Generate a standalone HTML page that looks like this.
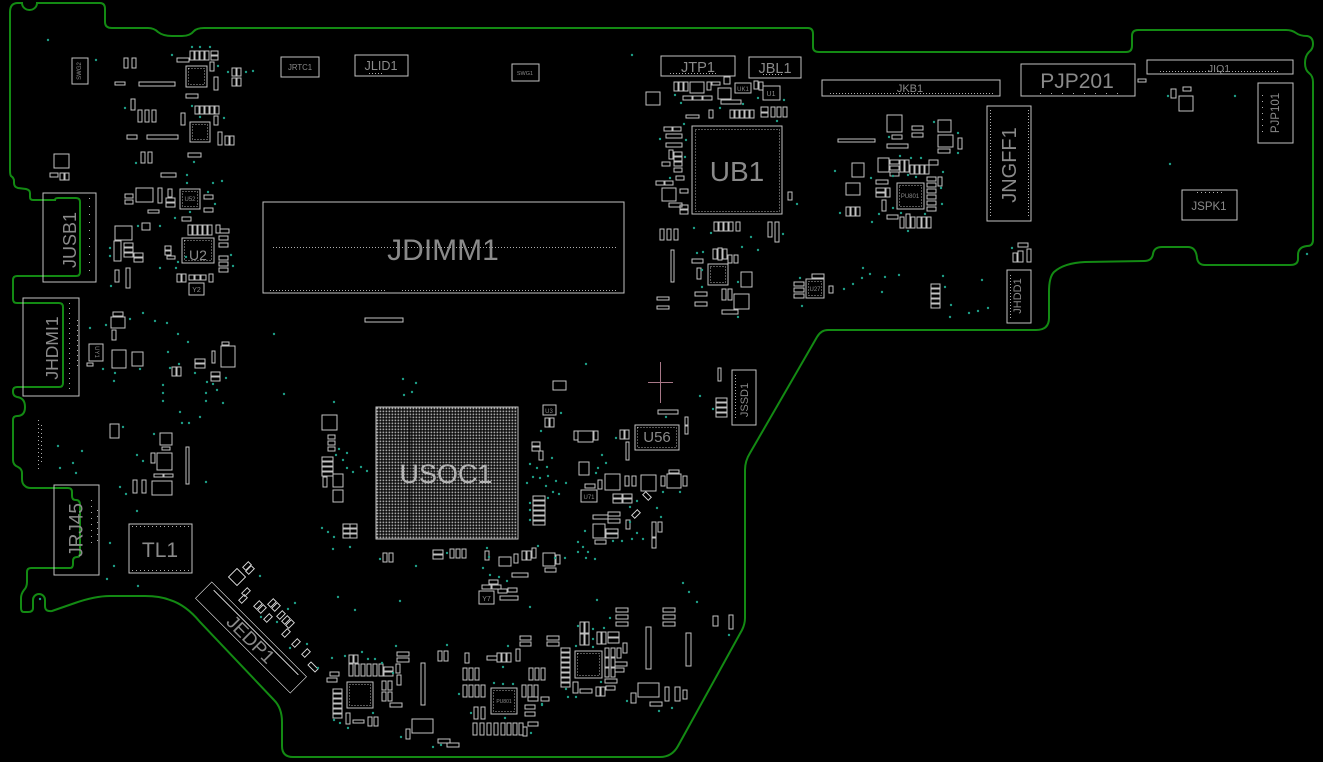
<!DOCTYPE html>
<html><head><meta charset="utf-8">
<style>
html,body{margin:0;padding:0;background:#000;width:1323px;height:762px;overflow:hidden}
svg{display:block}
text{font-family:"Liberation Sans",Arial,sans-serif}
</style></head>
<body>
<svg width="1323" height="762" viewBox="0 0 1323 762" xmlns="http://www.w3.org/2000/svg">
<defs>
<pattern id="bga" x="376" y="407" width="3" height="3" patternUnits="userSpaceOnUse">
<rect x="0.5" y="0.5" width="1.8" height="1.8" fill="#a8a8a8"/>
</pattern>
</defs>
<rect width="1323" height="762" fill="#000"/>

<!-- board outline -->
<path fill="none" stroke="#138a13" stroke-width="2" d="M 10,12 Q 10,3 18,3 L 22,3 A 7.5 7 0 0 0 37 3 L 100,3 Q 105,3 105,9 L 105,22 Q 105,28 112,28 L 148,28 Q 154,28 158,32 Q 163,36 172,36 L 182,36 Q 190,36 194,31 Q 197,28 204,28 L 808,28 Q 813,28 813,34 L 813,47 Q 813,52 819,52 L 1126,52 Q 1132,52 1132,46 L 1132,36 Q 1132,30 1138,30 L 1286,30 Q 1292,30 1296,33 Q 1300,36 1307,36 Q 1313,37 1313,44 Q 1313,49 1309,52 Q 1305,56 1305,63 Q 1305,70 1309,73 Q 1313,76 1313,82 L 1313,240 Q 1313,246 1307,246 Q 1298,247 1298,255 L 1298,259 Q 1298,265 1290,265 L 1205,265 Q 1198,265 1197,258 Q 1196,247 1188,247 L 1162,247 Q 1154,247 1153,254 Q 1152,261 1144,261 L 1085,262 Q 1064,263 1054,272 Q 1049,277 1049,292 L 1049,318 Q 1049,330 1036,330 L 828,330 Q 821,330 817,337 L 750,453 Q 745,461 745,470 L 745,618 Q 745,624 742,630 L 678,746 Q 672,757 660,757 L 293,757 Q 282,757 282,746 L 282,722 Q 282,708 274,700 L 200,622 Q 186,605 170,600 Q 160,596 145,596 L 110,596 Q 95,596 75,603 L 52,611 Q 45,612 45,606 L 45,600 A 6 6 0 0 0 33 600 L 33,608 Q 33,612 28,612 L 24,612 Q 21,612 21,608 L 21,598 Q 21,594 24,590 Q 27,587 27,582 L 27,572 Q 27,568 31,568 L 70,568 Q 73,568 73,564 L 73,561 Q 73,557 77,557 Q 80,557 80,553 L 80,505 Q 80,500 76,500 Q 72,500 72,496 L 72,492 Q 72,488 68,488 L 31,488 Q 27,488 25,486 Q 22,484 22,479 L 22,473 Q 22,469 18,467 Q 13,465 13,460 L 13,420 Q 13,416 17,416 Q 25,416 25,407 Q 25,398 17,397 Q 13,396 13,392 L 13,391 Q 13,387 17,387 L 59,387 Q 63,387 63,383 L 63,307 Q 63,303 59,303 L 17,303 Q 13,303 13,299 L 13,280 Q 13,276 17,276 L 76,276 Q 80,276 80,272 L 80,202 Q 80,198 76,198 L 58,198 Q 55,198 55,200 L 33,200 Q 30,200 30,197 L 30,193 Q 30,190 26,189 L 18,188 Q 14,187 14,183 L 14,181 Q 14,178 11,176 Q 10,175 10,170 Z"/>

<!-- BGA -->
<rect x="376" y="407" width="142" height="132" fill="url(#bga)"/>
<g stroke="#000" stroke-width="1.2" fill="none" opacity="0.55">
<line x1="386" y1="440" x2="508" y2="440"/><line x1="386" y1="506" x2="508" y2="506"/>
<line x1="410" y1="417" x2="410" y2="529"/><line x1="484" y1="417" x2="484" y2="529"/>
</g>

<!-- components -->
<g stroke="#c2c2c2" stroke-width="1" fill="none" shape-rendering="crispEdges">
<!-- big parts -->
<rect x="263" y="202" width="361" height="91"/>
<rect x="376" y="407" width="142" height="132"/>
<rect x="692" y="126" width="90" height="88"/>
<rect x="822" y="80" width="178" height="16"/>
<rect x="1021" y="64" width="114" height="32"/>
<rect x="1147" y="60" width="146" height="14"/>
<rect x="1258" y="83" width="35" height="60"/>
<rect x="1182" y="190" width="55" height="30"/>
<rect x="987" y="106" width="44" height="115"/>
<rect x="1007" y="270" width="24" height="53"/>
<rect x="661" y="56" width="74" height="20"/>
<rect x="749" y="57" width="52" height="21"/>
<rect x="355" y="55" width="53" height="21"/>
<rect x="281" y="57" width="38" height="20"/>
<rect x="512" y="64" width="27" height="17"/>
<rect x="72" y="58" width="16" height="26"/>
<rect x="43" y="193" width="53" height="89"/>
<rect x="23" y="298" width="56" height="98"/>
<rect x="54" y="485" width="45" height="90"/>
<rect x="129" y="524" width="63" height="49"/>
<rect x="635" y="425" width="44" height="25"/>
<rect x="732" y="370" width="24" height="55"/>
<rect x="182" y="238" width="32" height="25"/>
<rect x="189" y="283" width="15" height="12"/>
<rect x="479" y="591" width="15" height="13"/>
<rect x="365" y="318" width="38" height="4"/>

<!-- top-left cluster -->
<rect x="124" y="58" width="4" height="10"/><rect x="132" y="58" width="4" height="10"/>
<rect x="115" y="82" width="10" height="3"/><rect x="139" y="82" width="36" height="4"/>
<rect x="186" y="66" width="21" height="21"/>
<rect x="190" y="51" width="4" height="9"/><rect x="195" y="51" width="4" height="9"/><rect x="200" y="51" width="4" height="9"/><rect x="205" y="51" width="4" height="9"/><rect x="211" y="51" width="7" height="4"/><rect x="211" y="56" width="7" height="4"/>
<rect x="177" y="58" width="12" height="4"/><rect x="210" y="62" width="4" height="9"/><rect x="214" y="77" width="4" height="13"/>
<rect x="232" y="68" width="4" height="8"/><rect x="237" y="68" width="4" height="8"/><rect x="232" y="78" width="4" height="8"/><rect x="237" y="78" width="4" height="8"/>
<rect x="186" y="94" width="12" height="4"/><rect x="131" y="99" width="4" height="11"/>
<rect x="138" y="110" width="4" height="12"/><rect x="145" y="110" width="4" height="12"/><rect x="152" y="110" width="4" height="12"/>
<rect x="181" y="113" width="4" height="12"/>
<rect x="190" y="122" width="20" height="20"/>
<rect x="195" y="106" width="4" height="8"/><rect x="200" y="106" width="4" height="8"/><rect x="205" y="106" width="4" height="8"/><rect x="210" y="106" width="4" height="8"/><rect x="215" y="106" width="4" height="8"/>
<rect x="214" y="116" width="4" height="9"/>
<rect x="218" y="132" width="4" height="13"/><rect x="225" y="136" width="4" height="9"/><rect x="230" y="136" width="4" height="9"/>
<rect x="127" y="135" width="10" height="4"/><rect x="147" y="135" width="31" height="4"/>
<rect x="141" y="152" width="4" height="11"/><rect x="148" y="152" width="4" height="11"/>
<rect x="188" y="153" width="13" height="4"/>
<rect x="54" y="154" width="15" height="14"/>
<rect x="50" y="173" width="8" height="4"/><rect x="60" y="173" width="4" height="7"/><rect x="65" y="173" width="4" height="7"/>
<rect x="161" y="173" width="15" height="4"/>
<rect x="136" y="188" width="17" height="14"/>
<rect x="125" y="194" width="8" height="4"/><rect x="125" y="200" width="8" height="4"/>
<rect x="158" y="188" width="4" height="15"/>
<rect x="168" y="189" width="4" height="8"/><rect x="166" y="198" width="9" height="4"/><rect x="166" y="203" width="9" height="4"/>
<rect x="180" y="189" width="20" height="20"/>
<rect x="204" y="195" width="9" height="4"/><rect x="204" y="208" width="9" height="4"/>
<rect x="148" y="210" width="11" height="3"/><rect x="182" y="217" width="9" height="4"/>
<rect x="115" y="226" width="17" height="14"/><rect x="142" y="223" width="8" height="7"/>
<rect x="188" y="225" width="4" height="10"/><rect x="193" y="225" width="4" height="10"/><rect x="198" y="225" width="4" height="10"/><rect x="203" y="225" width="4" height="10"/><rect x="208" y="225" width="4" height="10"/>
<rect x="216" y="225" width="4" height="8"/><rect x="220" y="229" width="9" height="4"/><rect x="219" y="236" width="9" height="4"/><rect x="219" y="243" width="9" height="4"/><rect x="219" y="256" width="9" height="4"/><rect x="219" y="262" width="9" height="4"/><rect x="219" y="268" width="9" height="4"/>
<rect x="165" y="246" width="6" height="4"/><rect x="165" y="251" width="6" height="4"/><rect x="167" y="256" width="8" height="3"/>
<rect x="114" y="241" width="7" height="20"/>
<rect x="124" y="243" width="9" height="4"/><rect x="124" y="248" width="9" height="4"/><rect x="124" y="253" width="9" height="4"/><rect x="134" y="253" width="9" height="4"/><rect x="134" y="258" width="9" height="4"/>
<rect x="115" y="270" width="4" height="12"/><rect x="126" y="268" width="4" height="20"/>
<rect x="177" y="274" width="4" height="8"/><rect x="182" y="274" width="4" height="8"/><rect x="189" y="275" width="5" height="5"/><rect x="195" y="275" width="5" height="5"/><rect x="201" y="275" width="5" height="5"/><rect x="209" y="274" width="4" height="8"/>

<!-- HDMI area -->
<rect x="113" y="312" width="10" height="4"/><rect x="111" y="317" width="14" height="11"/><rect x="112" y="330" width="4" height="10"/>
<rect x="89" y="344" width="14" height="17"/><rect x="87" y="363" width="6" height="3"/>
<rect x="112" y="350" width="14" height="18"/><rect x="132" y="352" width="11" height="14"/>
<rect x="172" y="367" width="4" height="9"/><rect x="177" y="367" width="4" height="9"/>
<rect x="195" y="359" width="10" height="4"/><rect x="195" y="364" width="10" height="4"/>
<rect x="212" y="351" width="3" height="12"/><rect x="221" y="346" width="14" height="21"/><rect x="222" y="342" width="7" height="3"/>
<rect x="211" y="372" width="9" height="4"/><rect x="211" y="377" width="9" height="4"/>
<rect x="110" y="424" width="9" height="14"/>
<rect x="160" y="433" width="12" height="12"/><rect x="162" y="447" width="8" height="3"/>
<rect x="157" y="453" width="15" height="17"/><rect x="151" y="453" width="4" height="10"/>
<rect x="154" y="474" width="9" height="3"/><rect x="164" y="474" width="9" height="3"/>
<rect x="133" y="480" width="4" height="13"/><rect x="142" y="480" width="4" height="13"/>
<rect x="152" y="481" width="20" height="14"/><rect x="186" y="447" width="3" height="37"/>

<!-- UB1 area -->
<rect x="646" y="92" width="14" height="13"/>
<rect x="674" y="82" width="4" height="9"/><rect x="679" y="82" width="4" height="9"/><rect x="684" y="82" width="4" height="9"/>
<rect x="690" y="82" width="14" height="11"/><rect x="707" y="82" width="4" height="8"/><rect x="712" y="82" width="8" height="3"/>
<rect x="724" y="77" width="6" height="7"/><rect x="718" y="88" width="13" height="11"/>
<rect x="735" y="83" width="16" height="10"/><rect x="754" y="81" width="4" height="8"/><rect x="759" y="82" width="4" height="8"/>
<rect x="763" y="86" width="17" height="14"/>
<rect x="683" y="96" width="9" height="4"/><rect x="693" y="96" width="9" height="4"/><rect x="703" y="96" width="9" height="4"/>
<rect x="721" y="100" width="20" height="4"/><rect x="709" y="110" width="4" height="8"/>
<rect x="730" y="110" width="4" height="8"/><rect x="735" y="110" width="4" height="8"/><rect x="740" y="110" width="4" height="8"/><rect x="745" y="110" width="4" height="8"/><rect x="750" y="110" width="4" height="8"/>
<rect x="761" y="107" width="7" height="5"/><rect x="761" y="113" width="7" height="4"/><rect x="771" y="107" width="4" height="10"/><rect x="777" y="107" width="4" height="10"/><rect x="783" y="107" width="4" height="10"/>
<rect x="686" y="115" width="13" height="3"/>
<rect x="664" y="127" width="8" height="4"/><rect x="673" y="127" width="8" height="4"/><rect x="666" y="134" width="16" height="4"/><rect x="666" y="143" width="16" height="4"/>
<rect x="669" y="150" width="4" height="9"/><rect x="674" y="152" width="8" height="4"/><rect x="674" y="157" width="8" height="4"/><rect x="662" y="162" width="8" height="4"/><rect x="674" y="162" width="8" height="4"/><rect x="674" y="168" width="8" height="4"/>
<rect x="676" y="176" width="8" height="4"/><rect x="656" y="181" width="8" height="4"/><rect x="665" y="181" width="8" height="4"/>
<rect x="662" y="188" width="14" height="13"/><rect x="680" y="189" width="8" height="4"/><rect x="669" y="203" width="13" height="4"/><rect x="680" y="205" width="8" height="4"/><rect x="680" y="210" width="8" height="4"/>
<rect x="788" y="192" width="4" height="8"/>
<rect x="714" y="222" width="4" height="9"/><rect x="719" y="222" width="4" height="9"/><rect x="724" y="222" width="4" height="9"/><rect x="729" y="222" width="4" height="9"/><rect x="736" y="222" width="4" height="9"/>
<rect x="768" y="222" width="4" height="15"/><rect x="775" y="222" width="4" height="20"/>
<rect x="660" y="229" width="4" height="11"/><rect x="667" y="229" width="4" height="11"/><rect x="674" y="229" width="4" height="11"/>
<rect x="671" y="250" width="3" height="32"/><rect x="692" y="259" width="11" height="4"/><rect x="697" y="268" width="4" height="11"/>
<rect x="708" y="264" width="20" height="21"/>
<rect x="713" y="249" width="4" height="10"/><rect x="718" y="248" width="4" height="12"/><rect x="723" y="249" width="4" height="10"/><rect x="728" y="255" width="4" height="8"/><rect x="734" y="255" width="4" height="8"/>
<rect x="741" y="272" width="11" height="15"/><rect x="734" y="294" width="15" height="15"/>
<rect x="695" y="292" width="12" height="4"/><rect x="695" y="302" width="12" height="4"/>
<rect x="722" y="289" width="4" height="11"/><rect x="728" y="289" width="4" height="11"/>
<rect x="657" y="297" width="12" height="3"/><rect x="657" y="306" width="12" height="3"/><rect x="722" y="310" width="16" height="4"/>

<!-- PU601 area -->
<rect x="838" y="139" width="37" height="3"/>
<rect x="887" y="115" width="15" height="17"/>
<rect x="912" y="126" width="11" height="4"/><rect x="912" y="133" width="11" height="4"/>
<rect x="892" y="135" width="10" height="4"/><rect x="887" y="144" width="21" height="4"/>
<rect x="938" y="120" width="13" height="12"/><rect x="938" y="135" width="15" height="12"/><rect x="958" y="138" width="4" height="11"/><rect x="938" y="149" width="12" height="4"/>
<rect x="852" y="163" width="12" height="14"/><rect x="878" y="158" width="11" height="14"/>
<rect x="890" y="160" width="9" height="4"/><rect x="890" y="166" width="9" height="4"/><rect x="890" y="172" width="9" height="4"/><rect x="900" y="160" width="4" height="12"/><rect x="905" y="160" width="4" height="12"/>
<rect x="910" y="165" width="4" height="9"/><rect x="915" y="165" width="4" height="9"/><rect x="920" y="165" width="4" height="9"/><rect x="925" y="165" width="4" height="9"/><rect x="929" y="160" width="9" height="5"/>
<rect x="897" y="183" width="27" height="26"/>
<rect x="927" y="177" width="9" height="4"/><rect x="927" y="183" width="9" height="4"/><rect x="927" y="189" width="9" height="4"/><rect x="927" y="195" width="9" height="4"/><rect x="927" y="201" width="9" height="4"/><rect x="927" y="207" width="9" height="4"/><rect x="938" y="177" width="4" height="9"/>
<rect x="846" y="183" width="14" height="12"/><rect x="876" y="180" width="12" height="4"/>
<rect x="876" y="188" width="9" height="4"/><rect x="876" y="193" width="9" height="4"/><rect x="886" y="188" width="4" height="9"/>
<rect x="882" y="200" width="4" height="11"/><rect x="887" y="215" width="11" height="4"/>
<rect x="846" y="207" width="4" height="9"/><rect x="851" y="207" width="4" height="9"/><rect x="856" y="207" width="4" height="9"/>
<rect x="900" y="217" width="4" height="11"/><rect x="906" y="214" width="4" height="14"/><rect x="911" y="217" width="4" height="11"/><rect x="917" y="217" width="4" height="11"/><rect x="922" y="217" width="4" height="11"/><rect x="927" y="217" width="4" height="11"/>
<rect x="1018" y="243" width="10" height="4"/><rect x="1013" y="253" width="4" height="9"/><rect x="1018" y="251" width="5" height="11"/><rect x="1027" y="249" width="4" height="13"/>
<rect x="806" y="279" width="18" height="19"/>
<rect x="794" y="282" width="10" height="4"/><rect x="794" y="288" width="10" height="4"/><rect x="794" y="294" width="10" height="4"/>
<rect x="812" y="274" width="12" height="4"/><rect x="829" y="286" width="4" height="7"/>
<rect x="931" y="284" width="9" height="4"/><rect x="931" y="289" width="9" height="4"/><rect x="931" y="294" width="9" height="4"/><rect x="931" y="299" width="9" height="4"/><rect x="931" y="304" width="9" height="4"/>
<rect x="1138" y="79" width="8" height="3"/>
<rect x="1171" y="89" width="5" height="9"/><rect x="1183" y="87" width="8" height="4"/><rect x="1179" y="96" width="14" height="15"/>

<!-- SoC area -->
<rect x="322" y="415" width="15" height="15"/>
<rect x="328" y="435" width="7" height="4"/><rect x="328" y="441" width="7" height="4"/><rect x="328" y="447" width="7" height="4"/>
<rect x="322" y="457" width="11" height="4"/><rect x="322" y="462" width="11" height="4"/><rect x="322" y="467" width="11" height="4"/><rect x="322" y="472" width="11" height="4"/>
<rect x="323" y="477" width="4" height="10"/><rect x="333" y="474" width="10" height="13"/><rect x="333" y="490" width="10" height="12"/>
<rect x="343" y="524" width="7" height="4"/><rect x="350" y="524" width="7" height="4"/><rect x="343" y="529" width="7" height="4"/><rect x="350" y="529" width="7" height="4"/><rect x="343" y="534" width="7" height="4"/><rect x="350" y="534" width="7" height="4"/>
<rect x="383" y="553" width="4" height="9"/><rect x="389" y="553" width="4" height="9"/>
<rect x="433" y="550" width="10" height="4"/><rect x="433" y="555" width="10" height="4"/>
<rect x="450" y="549" width="4" height="9"/><rect x="456" y="549" width="4" height="9"/><rect x="462" y="549" width="4" height="9"/>
<rect x="553" y="381" width="13" height="9"/><rect x="543" y="405" width="13" height="10"/>
<rect x="545" y="418" width="4" height="9"/><rect x="550" y="418" width="4" height="9"/>
<rect x="532" y="442" width="8" height="4"/><rect x="532" y="447" width="8" height="4"/><rect x="539" y="451" width="4" height="9"/>
<rect x="533" y="496" width="12" height="4"/><rect x="533" y="501" width="12" height="4"/><rect x="533" y="506" width="12" height="4"/><rect x="533" y="511" width="12" height="4"/><rect x="533" y="516" width="12" height="4"/><rect x="533" y="521" width="12" height="4"/>
<rect x="485" y="551" width="4" height="9"/><rect x="499" y="557" width="12" height="9"/><rect x="514" y="554" width="4" height="9"/>
<rect x="522" y="551" width="4" height="9"/><rect x="527" y="551" width="4" height="9"/><rect x="532" y="548" width="4" height="10"/>
<rect x="543" y="553" width="12" height="13"/><rect x="556" y="555" width="4" height="9"/><rect x="545" y="568" width="11" height="4"/>
<rect x="512" y="573" width="16" height="4"/>
<rect x="489" y="580" width="9" height="4"/><rect x="482" y="585" width="9" height="4"/><rect x="492" y="585" width="9" height="4"/><rect x="498" y="589" width="9" height="4"/><rect x="508" y="588" width="9" height="4"/>
<rect x="500" y="596" width="18" height="4"/>
<rect x="574" y="431" width="4" height="9"/><rect x="578" y="431" width="15" height="11"/><rect x="594" y="431" width="4" height="9"/>
<rect x="620" y="430" width="4" height="9"/><rect x="625" y="430" width="4" height="9"/><rect x="626" y="442" width="3" height="18"/>
<rect x="685" y="417" width="3" height="8"/><rect x="685" y="426" width="3" height="8"/><rect x="658" y="410" width="20" height="4"/>
<rect x="718" y="368" width="3" height="13"/>
<rect x="716" y="398" width="11" height="4"/><rect x="716" y="403" width="11" height="4"/><rect x="716" y="408" width="11" height="4"/><rect x="716" y="413" width="11" height="4"/>
<rect x="579" y="462" width="10" height="13"/><rect x="585" y="484" width="10" height="4"/><rect x="598" y="480" width="4" height="9"/>
<rect x="605" y="474" width="15" height="16"/><rect x="625" y="476" width="4" height="10"/><rect x="632" y="476" width="4" height="10"/>
<rect x="641" y="475" width="15" height="16"/><rect x="661" y="476" width="4" height="10"/>
<rect x="667" y="474" width="14" height="14"/><rect x="669" y="470" width="10" height="3"/><rect x="683" y="476" width="4" height="10"/>
<rect x="581" y="490" width="16" height="12"/>
<rect x="613" y="494" width="9" height="4"/><rect x="613" y="499" width="9" height="4"/><rect x="623" y="494" width="9" height="4"/><rect x="623" y="499" width="9" height="4"/>
<rect x="593" y="515" width="15" height="4"/><rect x="608" y="512" width="12" height="4"/><rect x="608" y="519" width="12" height="4"/><rect x="626" y="520" width="4" height="9"/>
<rect x="593" y="524" width="12" height="14"/><rect x="606" y="529" width="12" height="4"/><rect x="606" y="534" width="12" height="4"/><rect x="595" y="540" width="11" height="4"/>
<rect x="652" y="522" width="4" height="15"/><rect x="658" y="522" width="4" height="10"/><rect x="652" y="538" width="4" height="10"/>
<rect x="-4" y="-2" width="8" height="4" transform="translate(636,514) rotate(-45)"/>
<rect x="-4" y="-2" width="8" height="4" transform="translate(647,496) rotate(45)"/>

<!-- JEDP1 and rotated parts -->
<g transform="translate(251,637.5) rotate(45)">
<rect x="-67" y="-11.5" width="134" height="23"/>
<line x1="-60" y1="-7" x2="60" y2="-7"/>
</g>
<rect x="-6" y="-6" width="12" height="12" transform="translate(237,577) rotate(45)"/>
<rect x="-4" y="-2" width="8" height="4" transform="translate(247,566) rotate(-45)"/>
<rect x="-4" y="-2" width="8" height="4" transform="translate(250,570) rotate(-45)"/>
<rect x="-4" y="-2" width="8" height="4" transform="translate(246,592) rotate(-45)"/>
<rect x="-4" y="-2" width="8" height="4" transform="translate(243,599) rotate(-45)"/>
<rect x="-4" y="-2" width="8" height="4" transform="translate(258,605) rotate(-45)"/>
<rect x="-4" y="-2" width="8" height="4" transform="translate(262,609) rotate(-45)"/>
<rect x="-4" y="-2" width="8" height="4" transform="translate(272,603) rotate(-45)"/>
<rect x="-4" y="-2" width="8" height="4" transform="translate(276,607) rotate(-45)"/>
<rect x="-4" y="-2" width="8" height="4" transform="translate(268,618) rotate(-45)"/>
<rect x="-4" y="-2" width="8" height="4" transform="translate(281,615) rotate(-45)"/>
<rect x="-4" y="-2" width="8" height="4" transform="translate(286,620) rotate(-45)"/>
<rect x="-4" y="-2" width="8" height="4" transform="translate(290,624) rotate(-45)"/>
<rect x="-4" y="-2" width="8" height="4" transform="translate(286,633) rotate(-45)"/>
<rect x="-4" y="-2" width="8" height="4" transform="translate(296,643) rotate(-45)"/>
<rect x="-4" y="-2" width="8" height="4" transform="translate(306,653) rotate(-45)"/>
<rect x="-5" y="-2" width="10" height="4" transform="translate(313,667) rotate(45)"/>

<!-- bottom cluster -->
<rect x="347" y="682" width="26" height="26"/>
<rect x="333" y="689" width="9" height="4"/><rect x="333" y="694" width="9" height="4"/><rect x="333" y="699" width="9" height="4"/><rect x="333" y="704" width="9" height="4"/><rect x="333" y="709" width="9" height="4"/><rect x="333" y="714" width="9" height="4"/>
<rect x="327" y="678" width="10" height="4"/><rect x="330" y="672" width="9" height="4"/>
<rect x="349" y="655" width="4" height="8"/><rect x="354" y="655" width="4" height="8"/>
<rect x="349" y="664" width="4" height="12"/><rect x="355" y="664" width="4" height="12"/><rect x="361" y="664" width="4" height="12"/><rect x="367" y="664" width="4" height="12"/><rect x="373" y="664" width="4" height="12"/><rect x="379" y="664" width="4" height="12"/>
<rect x="384" y="667" width="9" height="4"/><rect x="384" y="672" width="9" height="4"/>
<rect x="382" y="681" width="4" height="9"/><rect x="388" y="681" width="4" height="9"/><rect x="382" y="692" width="4" height="9"/><rect x="388" y="692" width="4" height="9"/>
<rect x="396" y="664" width="4" height="9"/><rect x="390" y="703" width="12" height="4"/>
<rect x="346" y="713" width="4" height="11"/><rect x="353" y="720" width="11" height="3"/><rect x="368" y="717" width="4" height="9"/><rect x="374" y="717" width="4" height="9"/>
<rect x="397" y="652" width="12" height="4"/><rect x="397" y="658" width="12" height="4"/><rect x="397" y="675" width="4" height="10"/>
<rect x="421" y="663" width="4" height="42"/>
<rect x="438" y="651" width="4" height="10"/><rect x="444" y="651" width="4" height="10"/>
<rect x="412" y="719" width="21" height="14"/><rect x="406" y="729" width="4" height="10"/>
<rect x="438" y="739" width="12" height="4"/><rect x="447" y="743" width="12" height="4"/>
<rect x="465" y="653" width="4" height="10"/>
<rect x="463" y="668" width="4" height="12"/><rect x="469" y="668" width="4" height="12"/><rect x="475" y="668" width="4" height="12"/>
<rect x="463" y="685" width="4" height="12"/><rect x="469" y="685" width="4" height="12"/><rect x="475" y="685" width="4" height="12"/><rect x="481" y="685" width="4" height="12"/>
<rect x="491" y="688" width="26" height="26"/>
<rect x="474" y="707" width="4" height="12"/><rect x="481" y="707" width="4" height="12"/>
<rect x="473" y="723" width="4" height="12"/><rect x="480" y="723" width="4" height="12"/><rect x="487" y="723" width="4" height="12"/><rect x="494" y="723" width="4" height="12"/><rect x="501" y="723" width="4" height="12"/><rect x="507" y="723" width="4" height="12"/><rect x="513" y="723" width="4" height="12"/><rect x="519" y="723" width="4" height="12"/>
<rect x="522" y="685" width="4" height="12"/><rect x="528" y="685" width="4" height="12"/><rect x="534" y="685" width="4" height="12"/>
<rect x="497" y="653" width="4" height="9"/><rect x="502" y="653" width="4" height="9"/><rect x="507" y="653" width="4" height="9"/><rect x="487" y="656" width="10" height="4"/>
<rect x="516" y="649" width="4" height="12"/>
<rect x="520" y="636" width="11" height="4"/><rect x="520" y="642" width="11" height="4"/>
<rect x="547" y="636" width="12" height="4"/><rect x="547" y="642" width="12" height="4"/>
<rect x="529" y="668" width="4" height="12"/><rect x="535" y="668" width="4" height="12"/><rect x="541" y="668" width="4" height="12"/>
<rect x="528" y="697" width="10" height="4"/><rect x="541" y="697" width="8" height="4"/>
<rect x="525" y="705" width="10" height="4"/><rect x="525" y="712" width="10" height="4"/><rect x="528" y="722" width="10" height="4"/><rect x="523" y="727" width="4" height="9"/>
<rect x="616" y="608" width="12" height="4"/><rect x="616" y="615" width="12" height="4"/><rect x="616" y="622" width="12" height="4"/>
<rect x="663" y="608" width="12" height="4"/><rect x="663" y="615" width="12" height="4"/><rect x="663" y="622" width="12" height="4"/>
<rect x="646" y="627" width="5" height="42"/><rect x="686" y="633" width="5" height="33"/>
<rect x="713" y="616" width="5" height="10"/><rect x="729" y="615" width="4" height="14"/>
<rect x="575" y="651" width="27" height="27"/>
<rect x="561" y="648" width="9" height="4"/><rect x="561" y="653" width="9" height="4"/><rect x="561" y="658" width="9" height="4"/><rect x="561" y="663" width="9" height="4"/><rect x="561" y="668" width="9" height="4"/><rect x="561" y="673" width="9" height="4"/><rect x="561" y="678" width="9" height="4"/><rect x="561" y="683" width="9" height="4"/>
<rect x="580" y="622" width="4" height="11"/><rect x="585" y="622" width="4" height="11"/><rect x="580" y="634" width="4" height="11"/><rect x="585" y="634" width="4" height="11"/>
<rect x="597" y="632" width="4" height="12"/><rect x="602" y="632" width="4" height="12"/><rect x="608" y="632" width="11" height="5"/><rect x="608" y="638" width="11" height="5"/>
<rect x="605" y="648" width="4" height="9"/><rect x="611" y="648" width="4" height="9"/><rect x="605" y="658" width="4" height="9"/><rect x="611" y="658" width="4" height="9"/><rect x="605" y="668" width="4" height="9"/><rect x="611" y="668" width="4" height="9"/>
<rect x="617" y="648" width="4" height="10"/><rect x="623" y="643" width="4" height="10"/>
<rect x="615" y="662" width="12" height="4"/><rect x="615" y="668" width="9" height="4"/>
<rect x="605" y="679" width="12" height="4"/><rect x="606" y="686" width="9" height="4"/>
<rect x="573" y="682" width="5" height="11"/><rect x="580" y="689" width="12" height="4"/>
<rect x="596" y="687" width="4" height="9"/><rect x="601" y="687" width="4" height="9"/>
<rect x="638" y="683" width="21" height="14"/><rect x="631" y="693" width="5" height="10"/><rect x="650" y="702" width="12" height="4"/>
<rect x="665" y="687" width="4" height="14"/><rect x="675" y="687" width="5" height="14"/><rect x="683" y="690" width="4" height="9"/>
</g>

<!-- pins / inner details -->
<g stroke="#b0b0b0" stroke-width="1" fill="none" stroke-dasharray="1 2">
<line x1="273" y1="247.5" x2="617" y2="247.5"/>
<line x1="270" y1="290.5" x2="386" y2="290.5"/>
<line x1="402" y1="290.5" x2="616" y2="290.5"/>
<rect x="695.5" y="129.5" width="84" height="82"/>
<line x1="830" y1="93.5" x2="995" y2="93.5"/>
<line x1="1160" y1="71.5" x2="1278" y2="71.5"/>
<line x1="1040" y1="93.5" x2="1118" y2="93.5" stroke-dasharray="1 10"/>
<line x1="670" y1="73.5" x2="718" y2="73.5"/>
<line x1="763" y1="74.5" x2="782" y2="74.5"/>
<line x1="369" y1="73.5" x2="383" y2="73.5"/>
<line x1="990.5" y1="110" x2="990.5" y2="216"/>
<line x1="1028.5" y1="110" x2="1028.5" y2="216"/>
<line x1="1010.5" y1="275" x2="1010.5" y2="318"/>
<line x1="735.5" y1="375" x2="735.5" y2="420"/>
<line x1="1262.5" y1="95" x2="1262.5" y2="135" stroke-dasharray="1 5"/>
<line x1="1197" y1="192.5" x2="1222" y2="192.5" stroke-dasharray="1 3"/>
<line x1="89.5" y1="198" x2="89.5" y2="278" stroke-dasharray="1 7"/>
<line x1="69.5" y1="303" x2="69.5" y2="390" stroke-dasharray="1 4"/>
<line x1="77.5" y1="320" x2="77.5" y2="370" stroke-dasharray="1 4"/>
<line x1="91.5" y1="500" x2="91.5" y2="548" stroke-dasharray="1 5"/>
<line x1="97.5" y1="510" x2="97.5" y2="545" stroke-dasharray="1 5"/>
<line x1="132" y1="526.5" x2="190" y2="526.5" stroke-dasharray="1 3"/>
<line x1="132" y1="570.5" x2="190" y2="570.5" stroke-dasharray="1 3"/>
<line x1="38.5" y1="420" x2="38.5" y2="470" stroke-dasharray="1 3"/>
<line x1="41.5" y1="425" x2="41.5" y2="465" stroke-dasharray="1 3"/>
<rect x="188.5" y="68.5" width="16" height="16"/>
<rect x="192.5" y="124.5" width="15" height="15"/>
<rect x="182.5" y="191.5" width="15" height="15"/>
<rect x="184.5" y="240.5" width="27" height="20"/>
<rect x="710.5" y="266.5" width="15" height="16"/>
<rect x="899.5" y="185.5" width="22" height="21"/>
<rect x="808.5" y="281.5" width="13" height="14"/>
<rect x="349.5" y="684.5" width="21" height="21"/>
<rect x="493.5" y="690.5" width="21" height="21"/>
<rect x="577.5" y="653.5" width="22" height="22"/>
<rect x="637.5" y="427.5" width="39" height="20"/>
</g>

<!-- crosshair -->
<g stroke="#a87888" stroke-width="1" shape-rendering="crispEdges">
<line x1="648" y1="382.5" x2="673" y2="382.5"/>
<line x1="660.5" y1="362" x2="660.5" y2="403"/>
</g>

<!-- teal vias -->
<g fill="#1d9d86">
<circle cx="48" cy="40" r="1.2"/><circle cx="96" cy="60" r="1.2"/><circle cx="172" cy="55" r="1.2"/><circle cx="192" cy="47" r="1.2"/><circle cx="200" cy="47" r="1.2"/><circle cx="210" cy="47" r="1.2"/><circle cx="218" cy="66" r="1.2"/><circle cx="228" cy="72" r="1.2"/><circle cx="246" cy="72" r="1.2"/><circle cx="125" cy="108" r="1.2"/><circle cx="192" cy="106" r="1.2"/><circle cx="200" cy="117" r="1.2"/><circle cx="224" cy="118" r="1.2"/><circle cx="136" cy="163" r="1.2"/><circle cx="194" cy="162" r="1.2"/><circle cx="187" cy="175" r="1.2"/><circle cx="187" cy="183" r="1.2"/><circle cx="213" cy="183" r="1.2"/><circle cx="222" cy="181" r="1.2"/><circle cx="208" cy="192" r="1.2"/><circle cx="215" cy="204" r="1.2"/><circle cx="175" cy="218" r="1.2"/><circle cx="190" cy="212" r="1.2"/><circle cx="160" cy="226" r="1.2"/><circle cx="138" cy="226" r="1.2"/><circle cx="110" cy="248" r="1.2"/><circle cx="110" cy="256" r="1.2"/><circle cx="186" cy="257" r="1.2"/><circle cx="178" cy="262" r="1.2"/><circle cx="231" cy="255" r="1.2"/><circle cx="233" cy="266" r="1.2"/><circle cx="160" cy="268" r="1.2"/><circle cx="111" cy="286" r="1.2"/><circle cx="176" cy="268" r="1.2"/><circle cx="253" cy="71" r="1.2"/><circle cx="632" cy="55" r="1.2"/>
<circle cx="660" cy="139" r="1.2"/><circle cx="681" cy="103" r="1.2"/><circle cx="675" cy="95" r="1.2"/><circle cx="720" cy="108" r="1.2"/><circle cx="743" cy="104" r="1.2"/><circle cx="758" cy="98" r="1.2"/><circle cx="784" cy="100" r="1.2"/><circle cx="777" cy="121" r="1.2"/><circle cx="684" cy="124" r="1.2"/><circle cx="686" cy="140" r="1.2"/><circle cx="685" cy="157" r="1.2"/><circle cx="670" cy="178" r="1.2"/><circle cx="797" cy="204" r="1.2"/><circle cx="694" cy="228" r="1.2"/><circle cx="711" cy="233" r="1.2"/><circle cx="742" cy="247" r="1.2"/><circle cx="751" cy="237" r="1.2"/><circle cx="758" cy="250" r="1.2"/><circle cx="783" cy="234" r="1.2"/><circle cx="703" cy="252" r="1.2"/><circle cx="697" cy="253" r="1.2"/><circle cx="702" cy="270" r="1.2"/><circle cx="702" cy="287" r="1.2"/><circle cx="738" cy="282" r="1.2"/><circle cx="738" cy="317" r="1.2"/><circle cx="800" cy="278" r="1.2"/><circle cx="802" cy="306" r="1.2"/><circle cx="844" cy="289" r="1.2"/><circle cx="853" cy="284" r="1.2"/><circle cx="862" cy="278" r="1.2"/><circle cx="863" cy="268" r="1.2"/><circle cx="870" cy="274" r="1.2"/><circle cx="885" cy="277" r="1.2"/><circle cx="882" cy="292" r="1.2"/><circle cx="899" cy="275" r="1.2"/><circle cx="943" cy="276" r="1.2"/><circle cx="945" cy="287" r="1.2"/><circle cx="951" cy="305" r="1.2"/><circle cx="950" cy="317" r="1.2"/><circle cx="969" cy="313" r="1.2"/><circle cx="978" cy="311" r="1.2"/><circle cx="988" cy="308" r="1.2"/><circle cx="982" cy="280" r="1.2"/><circle cx="1012" cy="248" r="1.2"/>
<circle cx="835" cy="171" r="1.2"/><circle cx="871" cy="178" r="1.2"/><circle cx="889" cy="137" r="1.2"/><circle cx="900" cy="156" r="1.2"/><circle cx="911" cy="158" r="1.2"/><circle cx="921" cy="158" r="1.2"/><circle cx="934" cy="122" r="1.2"/><circle cx="958" cy="133" r="1.2"/><circle cx="958" cy="153" r="1.2"/><circle cx="943" cy="172" r="1.2"/><circle cx="840" cy="213" r="1.2"/><circle cx="872" cy="222" r="1.2"/><circle cx="879" cy="214" r="1.2"/><circle cx="893" cy="208" r="1.2"/><circle cx="901" cy="213" r="1.2"/><circle cx="925" cy="214" r="1.2"/><circle cx="941" cy="188" r="1.2"/><circle cx="942" cy="204" r="1.2"/><circle cx="908" cy="231" r="1.2"/><circle cx="893" cy="176" r="1.2"/><circle cx="908" cy="175" r="1.2"/><circle cx="916" cy="177" r="1.2"/>
<circle cx="1168" cy="96" r="1.2"/><circle cx="1235" cy="96" r="1.2"/><circle cx="1170" cy="164" r="1.2"/><circle cx="1307" cy="254" r="1.2"/>
<circle cx="90" cy="328" r="1.2"/><circle cx="106" cy="325" r="1.2"/><circle cx="130" cy="319" r="1.2"/><circle cx="143" cy="313" r="1.2"/><circle cx="155" cy="321" r="1.2"/><circle cx="167" cy="323" r="1.2"/><circle cx="178" cy="334" r="1.2"/><circle cx="188" cy="342" r="1.2"/><circle cx="168" cy="352" r="1.2"/><circle cx="179" cy="364" r="1.2"/><circle cx="170" cy="368" r="1.2"/><circle cx="163" cy="385" r="1.2"/><circle cx="163" cy="393" r="1.2"/><circle cx="163" cy="401" r="1.2"/><circle cx="195" cy="373" r="1.2"/><circle cx="207" cy="382" r="1.2"/><circle cx="213" cy="384" r="1.2"/><circle cx="217" cy="390" r="1.2"/><circle cx="206" cy="393" r="1.2"/><circle cx="206" cy="401" r="1.2"/><circle cx="226" cy="378" r="1.2"/><circle cx="223" cy="403" r="1.2"/><circle cx="180" cy="412" r="1.2"/><circle cx="182" cy="423" r="1.2"/><circle cx="189" cy="423" r="1.2"/><circle cx="200" cy="417" r="1.2"/><circle cx="274" cy="334" r="1.2"/><circle cx="284" cy="394" r="1.2"/><circle cx="115" cy="373" r="1.2"/><circle cx="114" cy="381" r="1.2"/><circle cx="140" cy="369" r="1.2"/><circle cx="103" cy="369" r="1.2"/><circle cx="123" cy="427" r="1.2"/><circle cx="154" cy="434" r="1.2"/><circle cx="58" cy="446" r="1.2"/><circle cx="82" cy="451" r="1.2"/><circle cx="73" cy="463" r="1.2"/><circle cx="60" cy="468" r="1.2"/><circle cx="76" cy="473" r="1.2"/><circle cx="137" cy="455" r="1.2"/><circle cx="143" cy="461" r="1.2"/><circle cx="120" cy="487" r="1.2"/><circle cx="126" cy="494" r="1.2"/><circle cx="206" cy="482" r="1.2"/><circle cx="137" cy="511" r="1.2"/><circle cx="110" cy="543" r="1.2"/><circle cx="114" cy="566" r="1.2"/><circle cx="107" cy="579" r="1.2"/><circle cx="138" cy="586" r="1.2"/><circle cx="40" cy="599" r="1.2"/>
<circle cx="403" cy="379" r="1.2"/><circle cx="416" cy="383" r="1.2"/><circle cx="412" cy="392" r="1.2"/><circle cx="404" cy="395" r="1.2"/><circle cx="334" cy="402" r="1.2"/><circle cx="339" cy="449" r="1.2"/><circle cx="336" cy="455" r="1.2"/><circle cx="343" cy="460" r="1.2"/><circle cx="347" cy="453" r="1.2"/><circle cx="353" cy="472" r="1.2"/><circle cx="361" cy="467" r="1.2"/><circle cx="367" cy="471" r="1.2"/><circle cx="347" cy="468" r="1.2"/><circle cx="322" cy="528" r="1.2"/><circle cx="328" cy="532" r="1.2"/><circle cx="334" cy="537" r="1.2"/><circle cx="333" cy="549" r="1.2"/><circle cx="350" cy="547" r="1.2"/><circle cx="380" cy="559" r="1.2"/><circle cx="416" cy="566" r="1.2"/><circle cx="447" cy="553" r="1.2"/><circle cx="338" cy="597" r="1.2"/><circle cx="355" cy="610" r="1.2"/><circle cx="400" cy="601" r="1.2"/><circle cx="586" cy="364" r="1.2"/><circle cx="700" cy="396" r="1.2"/><circle cx="666" cy="417" r="1.2"/><circle cx="713" cy="409" r="1.2"/><circle cx="561" cy="413" r="1.2"/><circle cx="541" cy="431" r="1.2"/><circle cx="530" cy="464" r="1.2"/><circle cx="537" cy="468" r="1.2"/><circle cx="547" cy="467" r="1.2"/><circle cx="552" cy="458" r="1.2"/><circle cx="533" cy="477" r="1.2"/><circle cx="540" cy="478" r="1.2"/><circle cx="548" cy="476" r="1.2"/><circle cx="556" cy="481" r="1.2"/><circle cx="566" cy="483" r="1.2"/><circle cx="527" cy="483" r="1.2"/><circle cx="546" cy="486" r="1.2"/><circle cx="553" cy="492" r="1.2"/><circle cx="559" cy="494" r="1.2"/><circle cx="548" cy="498" r="1.2"/><circle cx="530" cy="503" r="1.2"/><circle cx="530" cy="510" r="1.2"/><circle cx="530" cy="520" r="1.2"/><circle cx="585" cy="531" r="1.2"/><circle cx="578" cy="542" r="1.2"/><circle cx="583" cy="547" r="1.2"/><circle cx="588" cy="552" r="1.2"/><circle cx="578" cy="552" r="1.2"/><circle cx="586" cy="558" r="1.2"/><circle cx="595" cy="559" r="1.2"/><circle cx="602" cy="455" r="1.2"/><circle cx="606" cy="463" r="1.2"/><circle cx="598" cy="468" r="1.2"/><circle cx="596" cy="473" r="1.2"/><circle cx="616" cy="438" r="1.2"/><circle cx="637" cy="501" r="1.2"/><circle cx="630" cy="507" r="1.2"/><circle cx="657" cy="508" r="1.2"/><circle cx="661" cy="517" r="1.2"/><circle cx="613" cy="541" r="1.2"/><circle cx="622" cy="541" r="1.2"/><circle cx="632" cy="539" r="1.2"/><circle cx="643" cy="539" r="1.2"/><circle cx="637" cy="533" r="1.2"/><circle cx="630" cy="522" r="1.2"/><circle cx="663" cy="492" r="1.2"/><circle cx="680" cy="492" r="1.2"/><circle cx="565" cy="558" r="1.2"/><circle cx="555" cy="558" r="1.2"/><circle cx="487" cy="548" r="1.2"/><circle cx="489" cy="557" r="1.2"/><circle cx="483" cy="568" r="1.2"/><circle cx="490" cy="575" r="1.2"/><circle cx="499" cy="577" r="1.2"/><circle cx="507" cy="581" r="1.2"/><circle cx="538" cy="546" r="1.2"/><circle cx="530" cy="607" r="1.2"/><circle cx="597" cy="600" r="1.2"/><circle cx="683" cy="583" r="1.2"/><circle cx="689" cy="592" r="1.2"/><circle cx="697" cy="602" r="1.2"/><circle cx="610" cy="618" r="1.2"/>
<circle cx="260" cy="576" r="1.2"/><circle cx="295" cy="603" r="1.2"/><circle cx="261" cy="617" r="1.2"/><circle cx="288" cy="609" r="1.2"/><circle cx="277" cy="622" r="1.2"/><circle cx="290" cy="648" r="1.2"/><circle cx="307" cy="644" r="1.2"/><circle cx="318" cy="668" r="1.2"/><circle cx="332" cy="658" r="1.2"/><circle cx="345" cy="656" r="1.2"/><circle cx="362" cy="652" r="1.2"/><circle cx="368" cy="659" r="1.2"/><circle cx="375" cy="659" r="1.2"/><circle cx="382" cy="663" r="1.2"/><circle cx="396" cy="646" r="1.2"/><circle cx="447" cy="645" r="1.2"/><circle cx="508" cy="646" r="1.2"/><circle cx="393" cy="673" r="1.2"/><circle cx="340" cy="723" r="1.2"/><circle cx="348" cy="728" r="1.2"/><circle cx="334" cy="720" r="1.2"/><circle cx="373" cy="713" r="1.2"/><circle cx="459" cy="694" r="1.2"/><circle cx="471" cy="713" r="1.2"/><circle cx="503" cy="667" r="1.2"/><circle cx="503" cy="684" r="1.2"/><circle cx="513" cy="684" r="1.2"/><circle cx="494" cy="683" r="1.2"/><circle cx="505" cy="718" r="1.2"/><circle cx="542" cy="704" r="1.2"/><circle cx="531" cy="733" r="1.2"/><circle cx="401" cy="737" r="1.2"/><circle cx="433" cy="747" r="1.2"/><circle cx="441" cy="745" r="1.2"/>
<circle cx="578" cy="626" r="1.2"/><circle cx="576" cy="646" r="1.2"/><circle cx="593" cy="629" r="1.2"/><circle cx="604" cy="628" r="1.2"/><circle cx="593" cy="639" r="1.2"/><circle cx="593" cy="647" r="1.2"/><circle cx="566" cy="689" r="1.2"/><circle cx="568" cy="697" r="1.2"/><circle cx="576" cy="697" r="1.2"/><circle cx="601" cy="682" r="1.2"/><circle cx="627" cy="701" r="1.2"/><circle cx="659" cy="711" r="1.2"/><circle cx="672" cy="708" r="1.2"/><circle cx="729" cy="635" r="1.2"/><circle cx="542" cy="705" r="1.2"/>
</g>

<!-- labels -->
<g fill="#8a8a8a">
<text x="443" y="260" font-size="30" text-anchor="middle">JDIMM1</text>
<text x="737" y="181" font-size="28" text-anchor="middle">UB1</text>
<text x="1077" y="88" font-size="21" text-anchor="middle">PJP201</text>
<text x="160" y="557" font-size="21" text-anchor="middle">TL1</text>
<text x="657" y="442" font-size="15" text-anchor="middle">U56</text>
<text x="698" y="72" font-size="14.6" text-anchor="middle">JTP1</text>
<text x="775" y="73" font-size="14.5" text-anchor="middle">JBL1</text>
<text x="381" y="70" font-size="12.6" text-anchor="middle">JLID1</text>
<text x="300" y="70" font-size="7.8" text-anchor="middle">JRTC1</text>
<text x="525" y="75" font-size="5.5" text-anchor="middle">SWG1</text>
<text x="910" y="92" font-size="11" text-anchor="middle">JKB1</text>
<text x="1219" y="72" font-size="10.5" text-anchor="middle">JIQ1</text>
<text x="1209" y="210" font-size="11.5" text-anchor="middle">JSPK1</text>
<text x="198" y="260" font-size="14" text-anchor="middle">U2</text>
<text x="196.5" y="292" font-size="7" text-anchor="middle">Y2</text>
<text x="486.5" y="601" font-size="7" text-anchor="middle">Y7</text>
<text x="190" y="201" font-size="6" text-anchor="middle">U52</text>
<text x="910" y="198" font-size="6" text-anchor="middle">PU801</text>
<text x="504" y="703" font-size="5" text-anchor="middle">PU801</text>
<text x="743" y="91" font-size="6" text-anchor="middle">UK1</text>
<text x="771" y="96" font-size="7" text-anchor="middle">U1</text>
<text x="549" y="413" font-size="6" text-anchor="middle">U3</text>
<text x="589" y="499" font-size="6" text-anchor="middle">U71</text>
<text x="815" y="291" font-size="6" text-anchor="middle">U27</text>
<text transform="translate(70,240) rotate(-90)" font-size="18" text-anchor="middle" dominant-baseline="central">JUSB1</text>
<text transform="translate(52,348) rotate(-90)" font-size="17.5" text-anchor="middle" dominant-baseline="central">JHDMI1</text>
<text transform="translate(77,530) rotate(-90)" font-size="19" text-anchor="middle" dominant-baseline="central">JRJ45</text>
<text transform="translate(1010,165) rotate(-90)" font-size="20" text-anchor="middle" dominant-baseline="central">JNGFF1</text>
<text transform="translate(1018,296) rotate(-90)" font-size="11" text-anchor="middle" dominant-baseline="central">JHDD1</text>
<text transform="translate(745,400) rotate(-90)" font-size="11" text-anchor="middle" dominant-baseline="central">JSSD1</text>
<text transform="translate(1276,113) rotate(-90)" font-size="11.5" text-anchor="middle" dominant-baseline="central">PJP101</text>
<text transform="translate(80,71) rotate(-90)" font-size="6" text-anchor="middle" dominant-baseline="central">SWG2</text>
<text transform="translate(96,352) rotate(90)" font-size="6" text-anchor="middle" dominant-baseline="central">UY1</text>
<text transform="translate(250,640) rotate(45)" font-size="19" text-anchor="middle" dominant-baseline="central">JEDP1</text>
</g>
<text x="446" y="483" font-size="27" text-anchor="middle" fill="#b4b4b4">USOC1</text>
</svg>
</body></html>
